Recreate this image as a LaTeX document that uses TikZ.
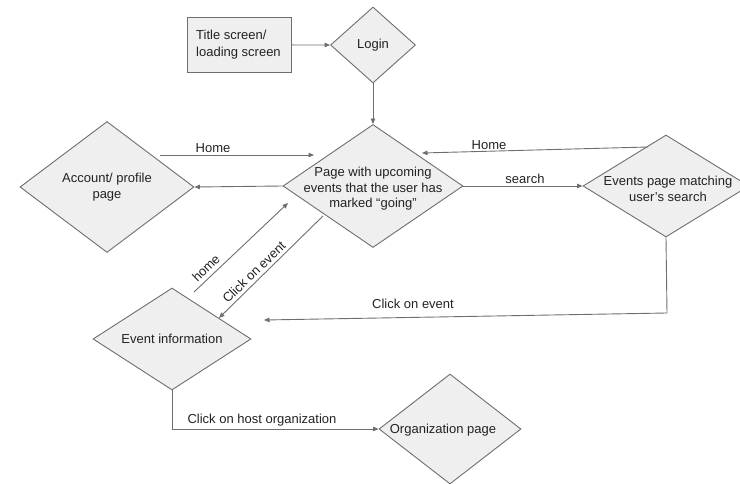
\documentclass[tikz,border=0pt]{standalone}
\usepackage{fontspec}
\setmainfont{Liberation Sans}
\usetikzlibrary{shapes.geometric,arrows.meta}
\definecolor{linegray}{RGB}{110,110,110}
\definecolor{fillgray}{RGB}{239,239,239}
\definecolor{textcol}{RGB}{34,34,34}
\tikzset{
  dia/.style={shape=diamond, draw=linegray, fill=fillgray, inner sep=0pt, line width=0.9pt},
  boxnode/.style={shape=rectangle, draw=linegray, fill=fillgray, inner sep=0pt, line width=0.9pt},
  txt/.style={font=\fontsize{13}{15.5}\selectfont, text=textcol, align=center, inner sep=0pt},
  conn/.style={draw=linegray, line width=0.9pt, -{Triangle[length=5.5pt,width=4.5pt]}},
  plain/.style={draw=linegray, line width=0.9pt}
}
\begin{document}
\begin{tikzpicture}[x=1pt,y=-1pt]
\useasboundingbox (0,0) rectangle (740,484);
% shapes
\node[boxnode, minimum width=104, minimum height=55, anchor=north west] (title) at (187,17) {};
\node[txt, align=left, anchor=west, font=\fontsize{13}{17}\selectfont] (titletxt) at (196,45) {Title screen/\\loading screen};
\node[dia, minimum width=85, minimum height=76] (login) at (373,45) {};
\node[txt] (logintxt) at (373,45) {Login};
\node[dia, minimum width=180, minimum height=123] (page) at (373,186) {};
\node[txt] (pagetxt) at (373,189) {Page with upcoming\\events that the user has\\marked “going”};
\node[dia, minimum width=174, minimum height=131] (acct) at (107,187) {};
\node[txt] (accttxt) at (107,187) {Account/ profile\\page};
\node[dia, minimum width=166, minimum height=102] (events) at (666,186) {};
\node[txt] (eventstxt) at (668,189) {Events page matching\\user’s search};
\node[dia, minimum width=158, minimum height=102] (einfo) at (172,339) {};
\node[txt] (einfotxt) at (172,339) {Event information};
\node[dia, minimum width=142, minimum height=110] (org) at (450,429) {};
\node[txt] (orgtxt) at (443,430) {Organization page};
% free-end coordinates
\coordinate (homeAs) at (160,155);
\coordinate (homeAe) at (314,155);
\coordinate (homeBs) at (648,147);
\coordinate (homeBe) at (422,153);
\coordinate (clickB) at (667,313);
\coordinate (clickBe) at (264,320);
\coordinate (homeCs) at (194,292);
\coordinate (homeCe) at (288,203);
\coordinate (clickAs) at (323,216);
\coordinate (clickAe) at (219,318);
% connectors
\draw[conn] (title.east) -- (login.west);
\draw[conn] (login.south) -- (page.north);
\draw[conn] (homeAs) -- (homeAe);
\node[txt] (lblhomeA) at (213,148) {Home};
\draw[conn] (page.west) -- (acct.east);
\draw[conn] (homeBs) -- (homeBe);
\node[txt] (lblhomeB) at (489,145) {Home};
\draw[conn] (page.east) -- (events.west);
\node[txt] (lblsearch) at (525,179) {search};
\draw[conn] (events.south) -- (clickB) -- (clickBe);
\node[txt] (lblclickB) at (413,304) {Click on event};
\draw[conn] (homeCs) -- (homeCe);
\node[txt, rotate=44] (lblhomeC) at (206,268) {home};
\draw[conn] (clickAs) -- (clickAe);
\node[txt, rotate=44] (lblclickA) at (254,272) {Click on event};
\draw[conn] (einfo.south) |- (org.west);
\node[txt] (lblhost) at (262,420) {Click on host organization};
\end{tikzpicture}
\end{document}
